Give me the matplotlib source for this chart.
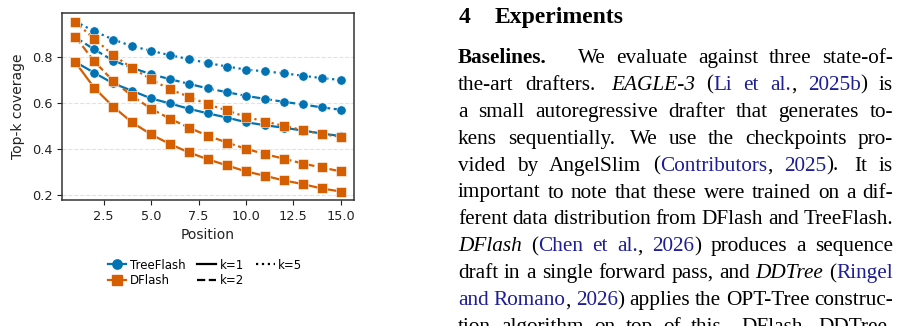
import matplotlib
matplotlib.use("Agg")
import matplotlib.pyplot as plt
from matplotlib.lines import Line2D
from matplotlib.transforms import IdentityTransform

"""Chart data (read off the figure)"""
positions = list(range(1, 16))
tree_k1 = [0.778, 0.731, 0.685, 0.653, 0.620, 0.598, 0.575, 0.555,
           0.537, 0.517, 0.504, 0.493, 0.481, 0.468, 0.457]
tree_k2 = [0.885, 0.832, 0.784, 0.752, 0.725, 0.703, 0.683, 0.663,
           0.647, 0.631, 0.618, 0.605, 0.594, 0.581, 0.571]
tree_k5 = [0.953, 0.911, 0.875, 0.846, 0.826, 0.807, 0.790, 0.773,
           0.758, 0.745, 0.737, 0.729, 0.718, 0.708, 0.700]
dflash_k1 = [0.777, 0.666, 0.584, 0.516, 0.464, 0.422, 0.386, 0.356,
             0.330, 0.304, 0.285, 0.265, 0.249, 0.230, 0.217]
dflash_k2 = [0.887, 0.781, 0.695, 0.631, 0.575, 0.532, 0.493, 0.458,
             0.429, 0.402, 0.379, 0.359, 0.338, 0.321, 0.304]
dflash_k5 = [0.950, 0.879, 0.807, 0.752, 0.702, 0.659, 0.627, 0.594,
             0.568, 0.540, 0.520, 0.501, 0.483, 0.465, 0.454]
yticks = [0.2, 0.4, 0.6, 0.8]

"""Paper text next to the chart: (text, style) segments per line"""
heading_num = "4"
heading_title = "Experiments"
text_lines = [
    [("Baselines.", "b"), ("  We evaluate against three state-of-", "n")],
    [("the-art drafters.  ", "n"), ("EAGLE-3", "i"), (" (", "n"), ("Li et al.", "c"),
     (", ", "n"), ("2025b", "c"), (") is", "n")],
    [("a small autoregressive drafter that generates to-", "n")],
    [("kens sequentially.  We use the checkpoints pro-", "n")],
    [("vided by AngelSlim (", "n"), ("Contributors", "c"), (", ", "n"),
     ("2025", "c"), (").  It is", "n")],
    [("important to note that these were trained on a dif-", "n")],
    [("ferent data distribution from DFlash and TreeFlash.", "n")],
    [("DFlash", "i"), (" (", "n"), ("Chen et al.", "c"), (", ", "n"), ("2026", "c"),
     (") produces a sequence", "n")],
    [("draft in a single forward pass, and ", "n"), ("DDTree", "i"), (" (", "n"),
     ("Ringel", "c")],
    [("and Romano", "c"), (", ", "n"), ("2026", "c"),
     (") applies the OPT-Tree construc-", "n")],
    [("tion algorithm on top of this.  DFlash, DDTree,", "n")],
]

blue = "#0173b2"
orange = "#d55e00"
cite_blue = "#1e1e96"

W, H = 904, 326
fig = plt.figure(figsize=(W / 100, H / 100), dpi=100)
ax = fig.add_axes([62 / W, 1 - 200 / H, 292 / W, 187 / H])

series = [
    (tree_k1, blue, "-", "o"), (tree_k2, blue, "--", "o"), (tree_k5, blue, ":", "o"),
    (dflash_k1, orange, "-", "s"), (dflash_k2, orange, "--", "s"), (dflash_k5, orange, ":", "s"),
]
for vals, col, ls, mk in series:
    ax.plot(positions, vals, color=col, linestyle=ls, marker=mk, markersize=6.7,
            linewidth=1.6, markeredgecolor="white", markeredgewidth=0.4)

ax.set_yticks(yticks)
ax.yaxis.grid(True, linestyle="--", color="#e2e2e2", linewidth=0.8)
ax.set_axisbelow(True)
for sp in ax.spines.values():
    sp.set_color("#333333")
    sp.set_linewidth(1.1)
ax.tick_params(labelsize=9.3, colors="#222222")
ax.set_xlabel("Position", fontsize=10, color="#222222")
ax.set_ylabel("Top-k coverage", fontsize=10, color="#222222", labelpad=5)

handles = [
    Line2D([0], [0], color=blue, marker="o", markersize=6.7, linewidth=1.6),
    Line2D([0], [0], color=orange, marker="s", markersize=6.7, linewidth=1.6),
    Line2D([0], [0], color="black", linestyle="-", linewidth=1.6),
    Line2D([0], [0], color="black", linestyle="--", linewidth=1.6),
    Line2D([0], [0], color="black", linestyle=":", linewidth=1.6),
]
labels = ["TreeFlash", "DFlash", "k=1", "k=2", "k=5"]
fig.legend(handles, labels, loc="center", bbox_to_anchor=(205 / W, 1 - 273 / H),
           ncol=3, frameon=False, fontsize=8.5, handlelength=1.6,
           handletextpad=0.3, columnspacing=1.0, labelspacing=0.25)

"""Paper text, drawn in pixel coordinates and justified"""
renderer = fig.canvas.get_renderer()
px = IdentityTransform()
serif = "Liberation Serif"
body_size = 15.3


def put(x, y, s, style, size=body_size):
    kw = dict(family=serif, fontsize=size, transform=px, va="baseline",
              ha="left", color="black")
    if style == "b":
        kw["fontweight"] = "bold"
    if style == "i":
        kw["fontstyle"] = "italic"
    if style == "c":
        kw["color"] = cite_blue
    t = fig.text(x, y, s, **kw)
    return t.get_window_extent(renderer).width


def to_words(segs):
    words, weights = [[]], []
    for txt, st in segs:
        parts = txt.split(" ")
        for j, p in enumerate(parts):
            if j > 0:
                if words[-1]:
                    words.append([])
                    weights.append(1.0)
                else:
                    weights[-1] += 0.4
            if p:
                words[-1].append((p, st))
    if not words[-1]:
        words.pop()
    return words, weights[:len(words) - 1]


put(459, H - 23, heading_num, "b", 17)
put(495, H - 23, heading_title, "b", 17)

x0, x1 = 458, 893
for i, segs in enumerate(text_lines):
    y = H - (63 + 26.9 * i)
    words, weights = to_words(segs)
    # measure each word first
    widths = []
    for w in words:
        tw = 0
        for s, st in w:
            t = fig.text(0, 0, s, family=serif, fontsize=body_size,
                         fontweight="bold" if st == "b" else "normal",
                         fontstyle="italic" if st == "i" else "normal")
            tw += t.get_window_extent(renderer).width
            t.remove()
        widths.append(tw)
    if i == 0:
        weights[0] = 3.0
    unit = (x1 - x0 - sum(widths)) / sum(weights)
    x = x0
    for k, w in enumerate(words):
        for s, st in w:
            x += put(x, y, s, st)
        if k < len(weights):
            x += unit * weights[k]

fig.savefig("out.png", dpi=100)
